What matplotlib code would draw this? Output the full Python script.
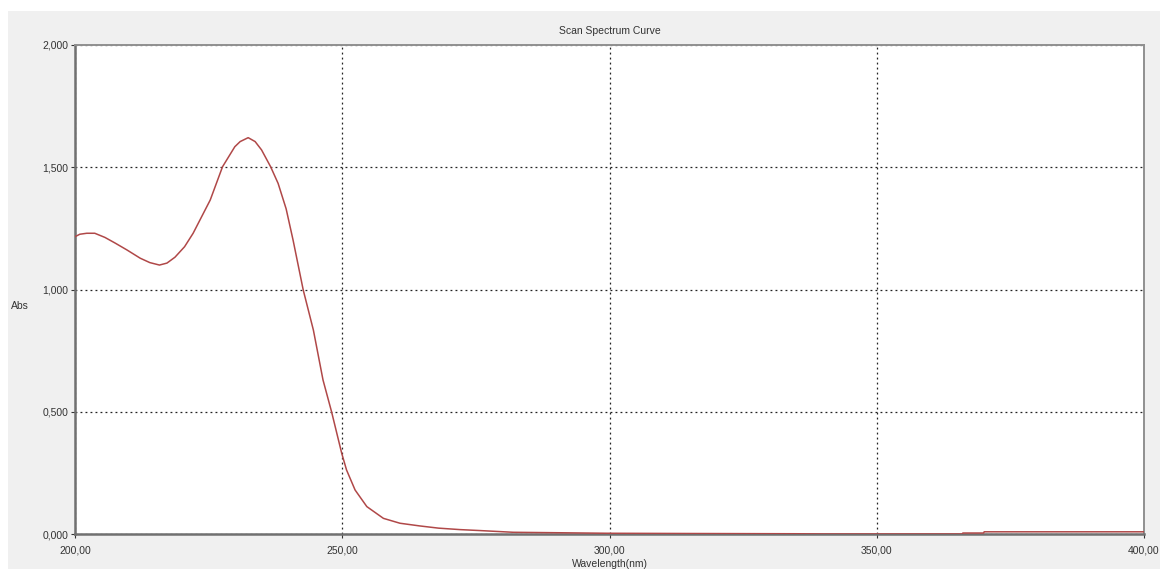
import matplotlib.pyplot as plt
from matplotlib.patches import Rectangle

# spectrum
wavelength = [200.0, 200.9, 202.2, 203.7, 205.6, 207.5, 209.7, 212.2, 214.0, 215.8,
              217.2, 218.7, 220.5, 222.1, 225.3, 227.6, 229.9, 230.9, 232.4, 233.7,
              234.9, 236.6, 238.0, 239.5, 240.8, 242.7, 244.6, 246.4, 248.0, 249.9,
              250.8, 252.4, 254.6, 257.7, 260.8, 264.5, 268.0, 272.0, 275.8, 282.0,
              291.0, 299.5, 315.0, 335.0, 340.0, 366.0, 366.1, 370.0, 370.1, 400.0]
absorb = [1.216, 1.226, 1.230, 1.230, 1.213, 1.190, 1.162, 1.128, 1.110, 1.100,
          1.108, 1.132, 1.175, 1.230, 1.366, 1.502, 1.584, 1.605, 1.621, 1.605,
          1.571, 1.502, 1.434, 1.330, 1.202, 0.998, 0.834, 0.630, 0.500, 0.330,
          0.262, 0.180, 0.112, 0.064, 0.044, 0.033, 0.024, 0.018, 0.014, 0.007,
          0.005, 0.003, 0.002, 0.001, 0.0, 0.0, 0.004, 0.004, 0.009, 0.009]

xticks = [200, 250, 300, 350, 400]
xticklabels = ['200,00', '250,00', '300,00', '350,00', '400,00']
yticks = [0.0, 0.5, 1.0, 1.5, 2.0]
yticklabels = ['0,000', '0,500', '1,000', '1,500', '2,000']

plt.rcParams['font.family'] = ['Liberation Sans', 'DejaVu Sans']

fig = plt.figure(figsize=(11.6, 5.69), dpi=100)
fig.patch.set_facecolor('white')
fig.patches.append(Rectangle((8 / 1160, 0), 1, 1 - 11 / 569, transform=fig.transFigure,
                             facecolor='#f0f0f0', edgecolor='none', zorder=-10))

ax = fig.add_axes([75 / 1160, 1 - 534 / 569, 1069 / 1160, 489 / 569])
ax.set_facecolor('white')
ax.plot(wavelength, absorb, color='#b04848', lw=1.1, zorder=3,
        solid_joinstyle='round')

ax.set_xlim(200, 400)
ax.set_ylim(0, 2.0)
ax.set_xticks(xticks)
ax.set_xticklabels(xticklabels)
ax.set_yticks(yticks)
ax.set_yticklabels(yticklabels)
ax.tick_params(labelsize=7.5, colors='#333333', length=3, width=0.8, pad=2)
ax.tick_params(axis='x', pad=5)

ax.grid(True, color='#222222', linestyle=(0, (1.5, 2.5)), lw=0.9)
for s in ['left', 'bottom']:
    ax.spines[s].set_color('#707070')
    ax.spines[s].set_linewidth(1.8)
for s in ['top', 'right']:
    ax.spines[s].set_color('#909090')
    ax.spines[s].set_linewidth(1.4)

ax.set_title('Scan Spectrum Curve', fontsize=7.5, color='#333333', pad=8)
ax.set_xlabel('Wavelength(nm)', fontsize=7.5, color='#333333', labelpad=3)
fig.text(20 / 1160, 1 - 306 / 569, 'Abs', fontsize=7.5, color='#333333',
         ha='center', va='center')

plt.savefig('out.png', dpi=100, facecolor=fig.get_facecolor())
